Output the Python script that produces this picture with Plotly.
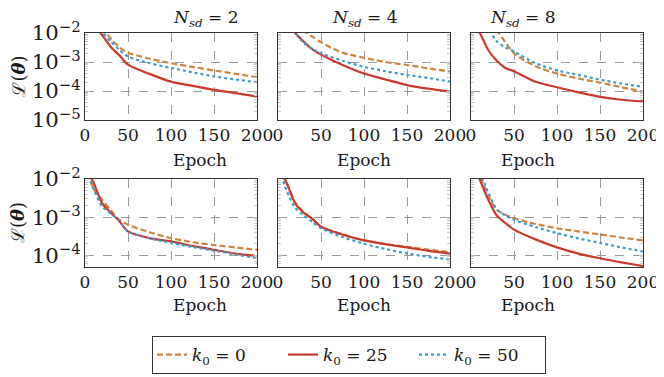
import plotly.graph_objects as go
from plotly.subplots import make_subplots

epochs = [0, 10, 20, 30, 40, 50, 75, 100, 125, 150, 175, 200]
n_sd = [2, 4, 8]
k0_labels = ["0", "25", "50"]

# row 1 -- losses per N_sd, for k0 = 0, 25, 50
top_k0_0 = [
    [8e-2, 3.5e-2, 1.4e-2, 6.5e-3, 3.2e-3, 2.1e-3, 1.3e-3, 9.1e-4, 6.8e-4, 5.1e-4, 3.9e-4, 3.0e-4],
    [1e-1, 5e-2, 2.3e-2, 1.2e-2, 7.5e-3, 4.8e-3, 2.1e-3, 1.4e-3, 1.0e-3, 7.9e-4, 6.0e-4, 4.7e-4],
    [1e-1, 5e-2, 2.4e-2, 1.2e-2, 4.8e-3, 2.0e-3, 7.2e-4, 4.0e-4, 2.7e-4, 1.95e-4, 1.35e-4, 9.5e-5],
]
top_k0_25 = [
    [5e-2, 2e-2, 8.5e-3, 3.3e-3, 1.7e-3, 8.1e-4, 3.9e-4, 2.1e-4, 1.5e-4, 1.1e-4, 8.5e-5, 6.5e-5],
    [6e-2, 2.5e-2, 1.0e-2, 5e-3, 2.7e-3, 1.8e-3, 7.9e-4, 4.0e-4, 2.5e-4, 1.6e-4, 1.2e-4, 9.5e-5],
    [3e-2, 1.05e-2, 2.6e-3, 1.1e-3, 6.2e-4, 4.8e-4, 2.1e-4, 1.35e-4, 9e-5, 6.3e-5, 5e-5, 4.4e-5],
]
top_k0_50 = [
    [6e-2, 2.8e-2, 1.1e-2, 5e-3, 2.6e-3, 1.55e-3, 9.1e-4, 6.2e-4, 4.4e-4, 3.2e-4, 2.5e-4, 2.0e-4],
    [6e-2, 2.5e-2, 1.0e-2, 4.6e-3, 2.8e-3, 2.0e-3, 1.1e-3, 6.8e-4, 4.8e-4, 3.6e-4, 2.8e-4, 2.1e-4],
    [8e-2, 3.5e-2, 1.5e-2, 5.1e-3, 3.2e-3, 2.3e-3, 9.1e-4, 5.1e-4, 3.6e-4, 2.45e-4, 1.8e-4, 1.4e-4],
]

# row 2
bot_k0_0 = [
    [2.5e-2, 5.5e-3, 2.8e-3, 1.5e-3, 8.5e-4, 6.3e-4, 4.0e-4, 2.8e-4, 2.2e-4, 1.85e-4, 1.6e-4, 1.38e-4],
    [2e-2, 8e-3, 2.4e-3, 1.35e-3, 9.0e-4, 5.6e-4, 3.5e-4, 2.45e-4, 1.95e-4, 1.65e-4, 1.4e-4, 1.2e-4],
    [5e-2, 1.3e-2, 3.8e-3, 1.55e-3, 1.15e-3, 9.3e-4, 6.6e-4, 5.1e-4, 4.2e-4, 3.5e-4, 2.9e-4, 2.45e-4],
]
bot_k0_25 = [
    [2e-2, 8e-3, 2.3e-3, 1.3e-3, 7.8e-4, 4.2e-4, 2.8e-4, 2.3e-4, 1.75e-4, 1.38e-4, 1.1e-4, 9.5e-5],
    [2e-2, 8e-3, 2.3e-3, 1.3e-3, 9.0e-4, 5.6e-4, 3.5e-4, 2.45e-4, 1.95e-4, 1.6e-4, 1.3e-4, 1.1e-4],
    [4e-2, 1e-2, 2.9e-3, 1.1e-3, 7e-4, 4.7e-4, 2.6e-4, 1.6e-4, 1.1e-4, 8.3e-5, 6.5e-5, 5.2e-5],
]
bot_k0_50 = [
    [2.5e-2, 5.5e-3, 1.9e-3, 1.25e-3, 8.0e-4, 4.2e-4, 2.8e-4, 2.1e-4, 1.65e-4, 1.32e-4, 1.05e-4, 8.3e-5],
    [2.5e-2, 5e-3, 1.75e-3, 1.1e-3, 7.5e-4, 5.1e-4, 3.0e-4, 2.0e-4, 1.45e-4, 1.12e-4, 9.0e-5, 7.8e-5],
    [6e-2, 1.6e-2, 4.5e-3, 1.6e-3, 1.1e-3, 8.5e-4, 5.5e-4, 3.8e-4, 2.75e-4, 2.1e-4, 1.6e-4, 1.25e-4],
]

FONT = "DejaVu Serif"
TXT = "#1a1a1a"
FS = 17
colors = ["#cc8540", "#c83a2c", "#3d9acb"]
dashes = ["6px,3px", "solid", "dot"]

fig = make_subplots(rows=2, cols=3)

rows = [(top_k0_0, top_k0_25, top_k0_50), (bot_k0_0, bot_k0_25, bot_k0_50)]
for r, series in enumerate(rows, start=1):
    for c in range(3):
        for s in range(3):
            fig.add_trace(go.Scatter(
                x=epochs, y=series[s][c],
                mode="lines",
                line=dict(color=colors[s], width=2.2, dash=dashes[s], shape="spline", smoothing=0.8),
                name="<i>k</i><sub>0</sub> = " + k0_labels[s],
                legendgroup=k0_labels[s],
                showlegend=(r == 1 and c == 0),
            ), row=r, col=c + 1)

# page has an 8px body margin, so the figure is 8px smaller and
# reference pixel positions are shifted by 8
OFF = 8
W, H = 664 - OFF, 377 - OFF
x_px = [(85, 257), (278, 450), (471, 643)]
y_px = [(33, 120), (179, 267)]
y_ranges = [[-5, -2], [-4.31, -2]]


def px_x(p):
    return (p - OFF) / W


def px_y(p):
    return 1 - (p - OFF) / H


for r in range(2):
    for c in range(3):
        i = r * 3 + c + 1
        fig.layout[f"xaxis{i}"].update(
            domain=[px_x(x_px[c][0]), px_x(x_px[c][1])],
            range=[0, 200], tickvals=[0, 50, 100, 150, 200],
            showgrid=True, gridcolor="#9a9a9a", griddash="dash", gridwidth=1,
            showline=True, linecolor="#333", linewidth=1, mirror=True,
            ticks="", zeroline=False, automargin=False,
            tickfont=dict(family=FONT, size=FS, color=TXT),
        )
        fig.layout[f"yaxis{i}"].update(
            domain=[px_y(y_px[r][1]), px_y(y_px[r][0])],
            type="log", range=y_ranges[r], dtick=1,
            exponentformat="power", showexponent="all",
            showgrid=True, gridcolor="#9a9a9a", griddash="dash", gridwidth=1,
            showline=True, linecolor="#333", linewidth=1, mirror="allticks",
            ticks="inside", ticklen=4, tickcolor="#bbb",
            minor=dict(ticks="inside", ticklen=3, tickcolor="#c8c8c8", showgrid=False),
            showticklabels=(c == 0), zeroline=False, automargin=False,
            tickfont=dict(family=FONT, size=FS, color=TXT),
        )

annotations = []
for c in range(3):
    xc = px_x((x_px[c][0] + x_px[c][1]) / 2)
    annotations.append(dict(
        text=f"<i>N</i><sub><i>sd</i></sub> = {n_sd[c]}", x=xc, y=px_y(18),
        xref="paper", yref="paper", showarrow=False, yanchor="middle",
        font=dict(family=FONT, size=FS, color=TXT),
    ))
    for yy in (160, 305):
        annotations.append(dict(
            text="Epoch", x=xc, y=px_y(yy), xref="paper", yref="paper",
            showarrow=False, yanchor="middle",
            font=dict(family=FONT, size=FS, color=TXT),
        ))
for r in range(2):
    yc = px_y((y_px[r][0] + y_px[r][1]) / 2)
    annotations.append(dict(
        text="ℒ(<b><i>θ</i></b>)", x=px_x(18), y=yc, xref="paper", yref="paper",
        textangle=-90, showarrow=False, xanchor="center", yanchor="middle",
        font=dict(family=FONT, size=FS + 1, color=TXT),
    ))

fig.update_layout(
    width=W, height=H,
    margin=dict(l=0, r=0, t=0, b=0, autoexpand=False),
    paper_bgcolor="white", plot_bgcolor="white",
    annotations=annotations,
    showlegend=True,
    legend=dict(
        orientation="h", x=px_x(152), y=px_y(336), xanchor="left", yanchor="top",
        bordercolor="#333", borderwidth=1, bgcolor="white",
        entrywidth=86, entrywidthmode="pixels",
        font=dict(family=FONT, size=FS, color=TXT),
    ),
)

fig.write_html("out.html")
